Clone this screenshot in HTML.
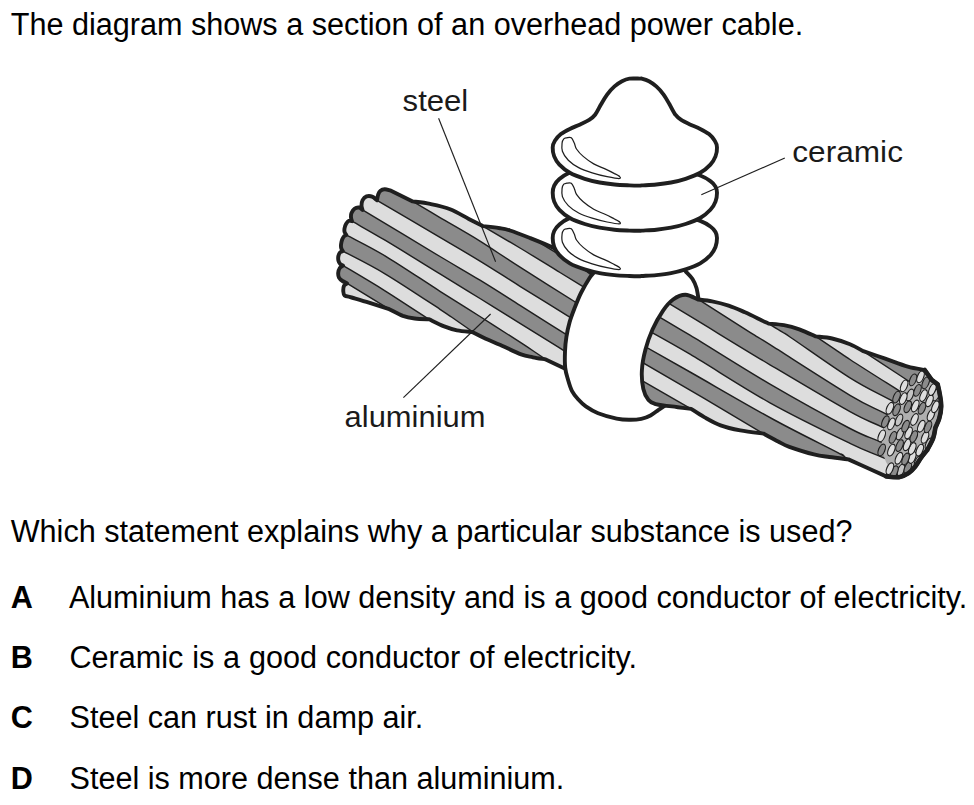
<!DOCTYPE html>
<html><head><meta charset="utf-8">
<style>
html,body{margin:0;padding:0;background:#fff;}
body{width:974px;height:805px;position:relative;overflow:hidden;font-family:"Liberation Sans",Arial,sans-serif;color:#000;}
.t{position:absolute;white-space:nowrap;font-size:30.6px;line-height:36px;}
.b{font-weight:bold;}
svg{position:absolute;left:0;top:0;}
svg text{font-family:"Liberation Sans",Arial,sans-serif;font-size:29px;fill:#1a1a1a;}
</style></head><body>
<div class="t" style="left:10.7px;top:6px">The diagram shows a section of an overhead power cable.</div>
<div class="t" style="left:10.7px;top:512.5px">Which statement explains why a particular substance is used?</div>
<div class="t b" style="left:10.7px;top:579px">A</div>
<div class="t" style="left:68.9px;top:579px;word-spacing:0.1px">Aluminium has a low density and is a good conductor of electricity.</div>
<div class="t b" style="left:10.7px;top:638.5px">B</div>
<div class="t" style="left:69.5px;top:638.5px;word-spacing:0.3px">Ceramic is a good conductor of electricity.</div>
<div class="t b" style="left:10.7px;top:699px">C</div>
<div class="t" style="left:69.5px;top:699px">Steel can rust in damp air.</div>
<div class="t b" style="left:10.7px;top:759.6px">D</div>
<div class="t" style="left:69.5px;top:759.6px">Steel is more dense than aluminium.</div>
<svg width="974" height="805" viewBox="0 0 974 805">
<clipPath id="cl"><path d="M377.0,200.3 C377.2,199.3 377.6,196.1 378.2,194.5 C378.8,192.9 379.4,191.7 380.5,190.8 C381.6,189.9 383.1,189.3 384.7,189.2 C386.3,189.1 389.1,190.1 390.0,190.3 L412.7,201.4 C415.6,201.8 423.9,202.6 430.1,203.9 C436.3,205.2 443.7,206.7 450.1,209.2 C456.6,211.7 463.4,216.1 468.8,218.9 C474.2,221.7 480.5,224.9 482.8,226.1 C485.7,226.4 495.5,227.5 500.0,228.2 C504.5,228.9 505.0,228.9 510.0,230.5 C515.0,232.1 522.9,235.2 530.0,238.0 C537.1,240.8 546.0,244.3 552.7,247.6 C559.4,250.9 562.1,252.6 570.0,258.0 C577.9,263.4 595.0,276.3 600.0,280.0 L600.0,400.0 L565.2,368.8 L545.7,359.5 C543.6,359.1 537.1,358.2 533.0,357.3 C528.9,356.4 526.5,356.4 521.1,354.4 C515.7,352.3 506.6,347.7 500.5,345.0 C494.4,342.3 488.9,340.2 484.2,338.0 C479.5,335.8 474.3,333.0 472.3,332.0 C469.8,331.7 461.8,331.3 457.0,330.3 C452.2,329.3 448.1,327.9 443.5,326.1 C438.9,324.3 431.5,320.4 429.1,319.3 C426.7,319.2 419.1,319.1 414.7,318.5 C410.3,317.9 407.1,317.4 402.8,315.9 C398.6,314.3 391.5,310.3 389.2,309.2 C385.8,308.1 375.5,304.7 368.9,302.6 C362.3,300.5 352.7,297.8 349.5,296.8 C348.7,296.6 345.6,296.4 344.6,295.5 C343.6,294.6 343.4,293.1 343.3,291.5 C343.2,289.9 343.3,287.4 343.9,286.0 C344.5,284.6 346.6,283.8 347.1,283.4 C346.3,283.0 343.9,281.9 342.5,281.0 C341.1,280.1 339.7,279.1 339.0,277.7 C338.3,276.3 338.1,274.5 338.2,272.9 C338.3,271.3 339.0,269.2 339.8,268.0 C340.6,266.8 342.6,266.0 343.1,265.6 C342.6,265.3 341.0,264.9 340.2,264.0 C339.4,263.1 338.7,261.8 338.4,260.5 C338.1,259.2 338.1,257.4 338.4,256.0 C338.7,254.6 339.5,253.1 340.2,252.3 C340.9,251.5 342.4,251.3 342.8,251.1 C342.5,250.6 341.5,249.2 341.2,248.0 C340.9,246.8 340.9,245.4 341.1,244.0 C341.3,242.6 341.7,240.8 342.2,239.5 C342.7,238.2 343.6,236.8 344.3,236.0 C345.0,235.2 346.0,235.1 346.3,234.9 C346.0,234.4 344.9,233.1 344.6,232.0 C344.3,230.9 344.3,229.8 344.5,228.5 C344.7,227.2 345.2,225.3 346.0,224.0 C346.8,222.7 348.0,221.3 349.0,220.8 C350.0,220.3 351.5,221.1 352.0,221.2 C351.8,220.6 351.1,218.9 351.0,217.5 C350.9,216.1 350.9,214.4 351.5,213.0 C352.1,211.6 353.1,209.7 354.4,208.8 C355.6,207.9 357.6,207.3 359.0,207.5 C360.4,207.7 361.9,209.5 362.5,209.9 C362.3,209.2 361.5,207.1 361.5,205.5 C361.5,203.9 361.8,201.7 362.6,200.2 C363.4,198.7 364.9,197.0 366.5,196.4 C368.1,195.8 370.4,195.9 372.2,196.6 C373.9,197.2 376.2,199.7 377.0,200.3 Z"/></clipPath>
<g clip-path="url(#cl)">
<rect x="330" y="100" width="280" height="420" fill="#dddddd"/>
<path d="M330.0,117.0 C348.3,128.0 405.0,162.0 440.0,183.0 C475.0,204.0 511.7,226.0 540.0,243.0 C568.3,260.0 598.3,278.0 610.0,285.0 L610,600 L330,600Z" fill="#8b8b8b"/>
<path d="M330.0,136.1 C355.5,151.1 451.1,207.5 482.8,226.1 C514.5,244.7 507.1,240.3 520.0,248.0 C532.9,255.7 545.0,263.3 560.0,272.5 C575.0,281.7 601.7,298.0 610.0,303.1 L610,600 L330,600Z" fill="#dddddd"/>
<path d="M330.0,152.3 C343.8,160.5 394.4,190.5 412.7,201.4 C431.0,212.3 428.8,211.0 440.0,217.6 C451.2,224.2 466.7,232.8 480.0,241.1 C493.3,249.4 503.3,256.6 520.0,267.2 C536.7,277.8 565.0,295.6 580.0,305.0 C595.0,314.4 605.0,320.8 610.0,323.9 L610,600 L330,600Z" fill="#8b8b8b"/>
<path d="M330.0,172.6 C337.8,177.2 358.7,189.5 377.0,200.3 C395.3,211.1 422.8,227.3 440.0,237.4 C457.2,247.5 466.7,253.0 480.0,261.1 C493.3,269.2 505.1,277.0 520.0,286.3 C534.9,295.6 554.3,307.6 569.3,316.9 C584.3,326.2 603.2,338.0 610.0,342.2 L610,600 L330,600Z" fill="#dddddd"/>
<path d="M330.0,190.4 C335.4,193.6 344.2,198.9 362.5,209.9 C380.8,220.9 420.4,244.8 440.0,256.5 C459.6,268.2 466.7,272.1 480.0,280.2 C493.3,288.3 505.8,296.4 520.0,305.4 C534.2,314.3 550.2,324.4 565.2,333.9 C580.2,343.4 602.5,357.4 610.0,362.1 L610,600 L330,600Z" fill="#8b8b8b"/>
<path d="M330.0,208.5 C333.7,210.6 342.8,215.9 352.0,221.2 C361.2,226.5 370.3,231.4 385.0,240.2 C399.7,249.0 424.2,264.2 440.0,273.9 C455.8,283.6 466.7,290.2 480.0,298.5 C493.3,306.8 506.0,314.7 520.0,323.4 C534.0,332.1 549.2,341.5 564.2,350.8 C579.2,360.1 602.4,374.5 610.0,379.2 L610,600 L330,600Z" fill="#dddddd"/>
<path d="M330.0,226.1 C332.7,227.6 337.1,229.9 346.3,234.9 C355.5,239.9 369.4,246.4 385.0,255.8 C400.6,265.2 424.2,281.2 440.0,291.3 C455.8,301.4 466.7,308.0 480.0,316.5 C493.3,325.0 509.1,335.1 520.0,342.2 C531.0,349.3 530.7,349.3 545.7,359.3 C560.7,369.3 599.3,395.0 610.0,402.1 L610,600 L330,600Z" fill="#8b8b8b"/>
<path d="M330.0,244.2 C332.1,245.4 333.6,246.2 342.8,251.1 C352.0,256.0 368.8,264.1 385.0,273.8 C401.2,283.5 425.4,299.7 440.0,309.3 C454.6,318.9 444.0,312.0 472.3,331.5 C500.6,351.0 587.0,410.4 610.0,426.1 L610,600 L330,600Z" fill="#dddddd"/>
<path d="M330.0,257.7 C332.2,259.0 333.9,260.1 343.1,265.6 C352.3,271.1 370.7,281.9 385.0,290.8 C399.3,299.8 391.6,295.1 429.1,319.3 C466.6,343.5 579.9,416.7 610.0,436.2 L610,600 L330,600Z" fill="#8b8b8b"/>
<path d="M330.0,272.9 C332.9,274.7 337.2,277.4 347.1,283.4 C357.0,289.4 345.4,282.3 389.2,309.2 C433.0,336.1 573.2,422.0 610.0,444.5 L610,600 L330,600Z" fill="#dddddd"/>
<path d="M330.0,117.0 C348.3,128.0 405.0,162.0 440.0,183.0 C475.0,204.0 511.7,226.0 540.0,243.0 C568.3,260.0 598.3,278.0 610.0,285.0" stroke="#1f1f1f" stroke-width="1.45" fill="none"/>
<path d="M330.0,136.1 C355.5,151.1 451.1,207.5 482.8,226.1 C514.5,244.7 507.1,240.3 520.0,248.0 C532.9,255.7 545.0,263.3 560.0,272.5 C575.0,281.7 601.7,298.0 610.0,303.1" stroke="#1f1f1f" stroke-width="1.45" fill="none"/>
<path d="M330.0,152.3 C343.8,160.5 394.4,190.5 412.7,201.4 C431.0,212.3 428.8,211.0 440.0,217.6 C451.2,224.2 466.7,232.8 480.0,241.1 C493.3,249.4 503.3,256.6 520.0,267.2 C536.7,277.8 565.0,295.6 580.0,305.0 C595.0,314.4 605.0,320.8 610.0,323.9" stroke="#1f1f1f" stroke-width="1.45" fill="none"/>
<path d="M330.0,172.6 C337.8,177.2 358.7,189.5 377.0,200.3 C395.3,211.1 422.8,227.3 440.0,237.4 C457.2,247.5 466.7,253.0 480.0,261.1 C493.3,269.2 505.1,277.0 520.0,286.3 C534.9,295.6 554.3,307.6 569.3,316.9 C584.3,326.2 603.2,338.0 610.0,342.2" stroke="#1f1f1f" stroke-width="1.45" fill="none"/>
<path d="M330.0,190.4 C335.4,193.6 344.2,198.9 362.5,209.9 C380.8,220.9 420.4,244.8 440.0,256.5 C459.6,268.2 466.7,272.1 480.0,280.2 C493.3,288.3 505.8,296.4 520.0,305.4 C534.2,314.3 550.2,324.4 565.2,333.9 C580.2,343.4 602.5,357.4 610.0,362.1" stroke="#1f1f1f" stroke-width="1.45" fill="none"/>
<path d="M330.0,208.5 C333.7,210.6 342.8,215.9 352.0,221.2 C361.2,226.5 370.3,231.4 385.0,240.2 C399.7,249.0 424.2,264.2 440.0,273.9 C455.8,283.6 466.7,290.2 480.0,298.5 C493.3,306.8 506.0,314.7 520.0,323.4 C534.0,332.1 549.2,341.5 564.2,350.8 C579.2,360.1 602.4,374.5 610.0,379.2" stroke="#1f1f1f" stroke-width="1.45" fill="none"/>
<path d="M330.0,226.1 C332.7,227.6 337.1,229.9 346.3,234.9 C355.5,239.9 369.4,246.4 385.0,255.8 C400.6,265.2 424.2,281.2 440.0,291.3 C455.8,301.4 466.7,308.0 480.0,316.5 C493.3,325.0 509.1,335.1 520.0,342.2 C531.0,349.3 530.7,349.3 545.7,359.3 C560.7,369.3 599.3,395.0 610.0,402.1" stroke="#1f1f1f" stroke-width="1.45" fill="none"/>
<path d="M330.0,244.2 C332.1,245.4 333.6,246.2 342.8,251.1 C352.0,256.0 368.8,264.1 385.0,273.8 C401.2,283.5 425.4,299.7 440.0,309.3 C454.6,318.9 444.0,312.0 472.3,331.5 C500.6,351.0 587.0,410.4 610.0,426.1" stroke="#1f1f1f" stroke-width="1.45" fill="none"/>
<path d="M330.0,257.7 C332.2,259.0 333.9,260.1 343.1,265.6 C352.3,271.1 370.7,281.9 385.0,290.8 C399.3,299.8 391.6,295.1 429.1,319.3 C466.6,343.5 579.9,416.7 610.0,436.2" stroke="#1f1f1f" stroke-width="1.45" fill="none"/>
<path d="M330.0,272.9 C332.9,274.7 337.2,277.4 347.1,283.4 C357.0,289.4 345.4,282.3 389.2,309.2 C433.0,336.1 573.2,422.0 610.0,444.5" stroke="#1f1f1f" stroke-width="1.45" fill="none"/>
</g>
<path d="M377.0,200.3 C377.2,199.3 377.6,196.1 378.2,194.5 C378.8,192.9 379.4,191.7 380.5,190.8 C381.6,189.9 383.1,189.3 384.7,189.2 C386.3,189.1 389.1,190.1 390.0,190.3 L412.7,201.4 C415.6,201.8 423.9,202.6 430.1,203.9 C436.3,205.2 443.7,206.7 450.1,209.2 C456.6,211.7 463.4,216.1 468.8,218.9 C474.2,221.7 480.5,224.9 482.8,226.1 C485.7,226.4 495.5,227.5 500.0,228.2 C504.5,228.9 505.0,228.9 510.0,230.5 C515.0,232.1 522.9,235.2 530.0,238.0 C537.1,240.8 546.0,244.3 552.7,247.6 C559.4,250.9 562.1,252.6 570.0,258.0 C577.9,263.4 595.0,276.3 600.0,280.0 L600.0,400.0 L565.2,368.8 L545.7,359.5 C543.6,359.1 537.1,358.2 533.0,357.3 C528.9,356.4 526.5,356.4 521.1,354.4 C515.7,352.3 506.6,347.7 500.5,345.0 C494.4,342.3 488.9,340.2 484.2,338.0 C479.5,335.8 474.3,333.0 472.3,332.0 C469.8,331.7 461.8,331.3 457.0,330.3 C452.2,329.3 448.1,327.9 443.5,326.1 C438.9,324.3 431.5,320.4 429.1,319.3 C426.7,319.2 419.1,319.1 414.7,318.5 C410.3,317.9 407.1,317.4 402.8,315.9 C398.6,314.3 391.5,310.3 389.2,309.2 C385.8,308.1 375.5,304.7 368.9,302.6 C362.3,300.5 352.7,297.8 349.5,296.8 C348.7,296.6 345.6,296.4 344.6,295.5 C343.6,294.6 343.4,293.1 343.3,291.5 C343.2,289.9 343.3,287.4 343.9,286.0 C344.5,284.6 346.6,283.8 347.1,283.4 C346.3,283.0 343.9,281.9 342.5,281.0 C341.1,280.1 339.7,279.1 339.0,277.7 C338.3,276.3 338.1,274.5 338.2,272.9 C338.3,271.3 339.0,269.2 339.8,268.0 C340.6,266.8 342.6,266.0 343.1,265.6 C342.6,265.3 341.0,264.9 340.2,264.0 C339.4,263.1 338.7,261.8 338.4,260.5 C338.1,259.2 338.1,257.4 338.4,256.0 C338.7,254.6 339.5,253.1 340.2,252.3 C340.9,251.5 342.4,251.3 342.8,251.1 C342.5,250.6 341.5,249.2 341.2,248.0 C340.9,246.8 340.9,245.4 341.1,244.0 C341.3,242.6 341.7,240.8 342.2,239.5 C342.7,238.2 343.6,236.8 344.3,236.0 C345.0,235.2 346.0,235.1 346.3,234.9 C346.0,234.4 344.9,233.1 344.6,232.0 C344.3,230.9 344.3,229.8 344.5,228.5 C344.7,227.2 345.2,225.3 346.0,224.0 C346.8,222.7 348.0,221.3 349.0,220.8 C350.0,220.3 351.5,221.1 352.0,221.2 C351.8,220.6 351.1,218.9 351.0,217.5 C350.9,216.1 350.9,214.4 351.5,213.0 C352.1,211.6 353.1,209.7 354.4,208.8 C355.6,207.9 357.6,207.3 359.0,207.5 C360.4,207.7 361.9,209.5 362.5,209.9 C362.3,209.2 361.5,207.1 361.5,205.5 C361.5,203.9 361.8,201.7 362.6,200.2 C363.4,198.7 364.9,197.0 366.5,196.4 C368.1,195.8 370.4,195.9 372.2,196.6 C373.9,197.2 376.2,199.7 377.0,200.3 Z" fill="none" stroke="#1f1f1f" stroke-width="3.9" stroke-linejoin="round"/>
<path d="M593.9,272.5 C593.2,273.4 591.8,274.5 589.7,277.8 C587.6,281.1 583.7,287.6 581.2,292.5 C578.7,297.4 576.8,302.4 574.9,307.3 C573.0,312.2 571.0,317.2 569.6,322.1 C568.2,327.0 567.2,332.0 566.4,336.9 C565.6,341.8 565.2,346.5 565.0,351.6 C564.8,356.7 564.7,363.0 565.2,367.7 C565.7,372.4 567.0,376.1 568.1,380.0 C569.2,383.9 570.2,387.6 571.9,390.8 C573.6,394.0 575.8,396.7 578.1,399.3 C580.4,401.9 582.5,404.0 585.8,406.3 C589.1,408.6 593.0,411.1 598.1,413.2 C603.2,415.2 611.5,417.5 616.6,418.6 C621.8,419.7 624.9,419.8 629.0,419.8 C633.1,419.9 637.7,419.6 641.3,418.9 C644.9,418.2 647.7,417.0 650.5,415.5 C653.3,414.0 655.8,411.8 658.2,410.1 C660.6,408.5 663.7,406.4 664.8,405.6 L700.0,380.0 L698.6,298.6 C698.1,296.2 697.9,288.8 695.7,284.3 C693.6,279.8 687.4,273.5 685.7,271.4 L640.0,255.0 L593.9,272.5 Z" fill="#fff" stroke="none"/>
<path d="M593.9,272.5 C593.2,273.4 591.8,274.5 589.7,277.8 C587.6,281.1 583.7,287.6 581.2,292.5 C578.7,297.4 576.8,302.4 574.9,307.3 C573.0,312.2 571.0,317.2 569.6,322.1 C568.2,327.0 567.2,332.0 566.4,336.9 C565.6,341.8 565.2,346.5 565.0,351.6 C564.8,356.7 564.7,363.0 565.2,367.7 C565.7,372.4 567.0,376.1 568.1,380.0 C569.2,383.9 570.2,387.6 571.9,390.8 C573.6,394.0 575.8,396.7 578.1,399.3 C580.4,401.9 582.5,404.0 585.8,406.3 C589.1,408.6 593.0,411.1 598.1,413.2 C603.2,415.2 611.5,417.5 616.6,418.6 C621.8,419.7 624.9,419.8 629.0,419.8 C633.1,419.9 637.7,419.6 641.3,418.9 C644.9,418.2 647.7,417.0 650.5,415.5 C653.3,414.0 655.8,411.8 658.2,410.1 C660.6,408.5 663.7,406.4 664.8,405.6" fill="none" stroke="#1f1f1f" stroke-width="3.9" stroke-linecap="round"/>
<path d="M685.7,271.4 C686.8,272.7 690.7,276.2 692.5,279.0 C694.3,281.8 695.5,284.6 696.5,288.0 C697.5,291.4 698.2,297.6 698.6,299.5" fill="none" stroke="#1f1f1f" stroke-width="3.9" stroke-linecap="round"/>
<clipPath id="cr"><path d="M664.8,405.6 C663.3,405.4 658.4,405.1 655.7,404.2 C653.0,403.3 650.6,402.7 648.5,400.1 C646.4,397.5 644.4,393.8 643.3,388.8 C642.2,383.8 641.5,376.8 641.9,370.3 C642.2,363.8 643.6,356.6 645.4,349.8 C647.2,343.0 649.7,335.8 652.6,329.3 C655.5,322.8 659.5,315.8 662.9,310.8 C666.3,305.8 669.4,302.2 673.1,299.5 C676.9,296.8 681.3,294.8 685.4,294.8 C689.5,294.8 695.7,298.7 697.8,299.5 C700.2,299.8 707.0,300.3 712.1,301.3 C717.2,302.3 723.1,303.8 728.6,305.6 C734.1,307.4 739.5,309.9 745.0,312.3 C750.5,314.7 757.5,318.3 761.4,320.2 C765.3,322.1 767.3,323.0 768.5,323.6 C771.1,323.9 778.8,324.2 783.9,325.2 C789.0,326.1 794.0,327.4 799.3,329.3 C804.6,331.2 813.0,335.2 815.7,336.4 C818.4,336.8 826.4,337.2 832.1,338.5 C837.8,339.8 844.9,342.2 850.0,344.3 C855.1,346.4 860.5,349.7 862.6,350.8 C866.4,352.1 877.7,356.1 885.2,358.7 C892.7,361.3 901.2,364.7 907.8,366.6 C914.4,368.5 921.9,369.4 924.7,370.0 L931.7,379.9 L937.7,384.4 C938.1,386.1 939.3,391.1 939.9,394.8 C940.5,398.5 941.3,402.8 941.2,406.8 C941.1,410.8 940.2,415.2 939.2,418.7 C938.2,422.2 936.0,426.2 935.4,427.7 C935.0,429.4 934.6,434.4 933.2,438.1 C931.8,441.8 928.2,448.1 927.2,450.1 C926.2,451.3 923.3,454.8 921.3,457.5 C919.3,460.2 917.4,463.9 915.3,466.5 C913.2,469.1 911.3,471.4 908.6,473.2 C905.9,475.0 902.6,476.7 898.9,477.2 C895.1,477.7 888.2,476.5 886.1,476.4 C883.1,475.0 874.4,471.1 868.1,468.3 C861.8,465.5 851.7,460.9 848.4,459.4 C845.2,459.0 835.0,457.8 829.3,457.0 C823.5,456.2 820.6,456.1 813.9,454.4 C807.2,452.7 795.3,448.9 789.3,446.8 C783.3,444.7 782.4,443.7 778.1,441.5 C773.8,439.3 765.8,434.9 763.3,433.6 C759.5,433.1 747.4,431.8 740.3,430.4 C733.2,429.0 726.6,427.5 720.6,425.3 C714.6,423.1 709.1,419.8 704.2,417.1 C699.3,414.4 693.3,410.3 691.1,408.9 C688.9,408.6 682.3,407.8 677.9,407.2 C673.5,406.6 667.0,405.9 664.8,405.6 Z"/></clipPath>
<g clip-path="url(#cr)">
<rect x="630" y="100" width="320" height="420" fill="#8b8b8b"/>
<path d="M630.0,197.8 C668.8,223.3 816.2,320.3 862.6,350.8 C909.0,381.3 893.9,371.4 908.5,381.0 C923.1,390.6 943.1,403.8 950.0,408.3 L950,600 L630,600Z" fill="#dddddd"/>
<path d="M630.0,211.3 C661.0,232.2 779.0,311.7 815.7,336.4 C852.4,361.1 835.8,350.2 850.0,359.5 C864.2,368.8 884.3,381.4 901.0,392.0 C917.7,402.6 941.8,418.0 950.0,423.2 L950,600 L630,600Z" fill="#8b8b8b"/>
<path d="M630.0,237.3 C653.1,251.7 741.8,307.0 768.5,323.6 C795.2,340.2 776.4,327.9 790.0,337.0 C803.6,346.1 832.8,367.1 850.0,377.9 C867.2,388.7 876.8,392.6 893.5,401.7 C910.2,410.8 940.6,427.5 950.0,432.6 L950,600 L630,600Z" fill="#dddddd"/>
<path d="M630.0,256.0 C641.6,263.4 679.5,287.5 699.5,300.2 C719.5,312.9 738.2,324.9 750.0,332.3 C761.8,339.7 753.3,334.2 770.0,344.7 C786.7,355.2 830.4,383.6 850.0,395.3 C869.6,407.0 871.2,406.2 887.9,414.8 C904.6,423.4 939.6,441.4 950.0,446.8 L950,600 L630,600Z" fill="#8b8b8b"/>
<path d="M630.0,280.0 C631.7,281.0 630.0,280.0 640.0,286.0 C650.0,292.0 668.3,303.1 690.0,316.2 C711.7,329.3 743.3,348.9 770.0,364.8 C796.7,380.7 831.0,401.2 850.0,411.7 C869.0,422.2 867.2,419.9 883.9,427.8 C900.6,435.7 939.0,454.0 950.0,459.2 L950,600 L630,600Z" fill="#dddddd"/>
<path d="M630.0,299.6 C631.7,300.6 630.0,299.6 640.0,305.5 C650.0,311.4 668.3,322.1 690.0,335.2 C711.7,348.3 743.3,368.6 770.0,384.2 C796.7,399.8 831.3,418.8 850.0,428.5 C868.7,438.2 865.5,435.3 882.2,442.6 C898.9,449.9 938.7,467.3 950.0,472.3 L950,600 L630,600Z" fill="#8b8b8b"/>
<path d="M630.0,320.4 C631.7,321.3 630.0,320.4 640.0,326.0 C650.0,331.6 668.3,341.4 690.0,354.2 C711.7,367.0 743.3,387.9 770.0,402.8 C796.7,417.7 830.9,434.1 850.0,443.3 C869.1,452.6 868.1,451.1 884.8,458.3 C901.5,465.5 939.1,481.7 950.0,486.4 L950,600 L630,600Z" fill="#dddddd"/>
<path d="M630.0,338.0 C631.7,339.0 630.0,338.0 640.0,343.7 C650.0,349.4 667.6,359.3 690.0,372.0 C712.4,384.7 749.4,406.4 774.4,420.0 C799.4,433.6 827.7,447.2 840.0,453.8 C852.3,460.4 830.1,447.2 848.4,459.4 C866.7,471.6 933.1,515.8 950.0,527.1 L950,600 L630,600Z" fill="#8b8b8b"/>
<path d="M630.0,355.2 C631.7,356.1 630.0,355.2 640.0,361.0 C650.0,366.8 669.5,378.0 690.0,390.1 C710.5,402.2 720.0,407.9 763.3,433.6 C806.6,459.3 918.9,525.9 950.0,544.4 L950,600 L630,600Z" fill="#dddddd"/>
<path d="M630.0,373.7 C631.7,374.7 629.8,373.6 640.0,379.5 C650.2,385.4 639.4,379.2 691.1,408.9 C742.8,438.6 906.9,533.0 950.0,557.9 L950,600 L630,600Z" fill="#8b8b8b"/>
<path d="M630.0,197.8 C668.8,223.3 816.2,320.3 862.6,350.8 C909.0,381.3 893.9,371.4 908.5,381.0 C923.1,390.6 943.1,403.8 950.0,408.3" stroke="#1f1f1f" stroke-width="1.45" fill="none"/>
<path d="M630.0,211.3 C661.0,232.2 779.0,311.7 815.7,336.4 C852.4,361.1 835.8,350.2 850.0,359.5 C864.2,368.8 884.3,381.4 901.0,392.0 C917.7,402.6 941.8,418.0 950.0,423.2" stroke="#1f1f1f" stroke-width="1.45" fill="none"/>
<path d="M630.0,237.3 C653.1,251.7 741.8,307.0 768.5,323.6 C795.2,340.2 776.4,327.9 790.0,337.0 C803.6,346.1 832.8,367.1 850.0,377.9 C867.2,388.7 876.8,392.6 893.5,401.7 C910.2,410.8 940.6,427.5 950.0,432.6" stroke="#1f1f1f" stroke-width="1.45" fill="none"/>
<path d="M630.0,256.0 C641.6,263.4 679.5,287.5 699.5,300.2 C719.5,312.9 738.2,324.9 750.0,332.3 C761.8,339.7 753.3,334.2 770.0,344.7 C786.7,355.2 830.4,383.6 850.0,395.3 C869.6,407.0 871.2,406.2 887.9,414.8 C904.6,423.4 939.6,441.4 950.0,446.8" stroke="#1f1f1f" stroke-width="1.45" fill="none"/>
<path d="M630.0,280.0 C631.7,281.0 630.0,280.0 640.0,286.0 C650.0,292.0 668.3,303.1 690.0,316.2 C711.7,329.3 743.3,348.9 770.0,364.8 C796.7,380.7 831.0,401.2 850.0,411.7 C869.0,422.2 867.2,419.9 883.9,427.8 C900.6,435.7 939.0,454.0 950.0,459.2" stroke="#1f1f1f" stroke-width="1.45" fill="none"/>
<path d="M630.0,299.6 C631.7,300.6 630.0,299.6 640.0,305.5 C650.0,311.4 668.3,322.1 690.0,335.2 C711.7,348.3 743.3,368.6 770.0,384.2 C796.7,399.8 831.3,418.8 850.0,428.5 C868.7,438.2 865.5,435.3 882.2,442.6 C898.9,449.9 938.7,467.3 950.0,472.3" stroke="#1f1f1f" stroke-width="1.45" fill="none"/>
<path d="M630.0,320.4 C631.7,321.3 630.0,320.4 640.0,326.0 C650.0,331.6 668.3,341.4 690.0,354.2 C711.7,367.0 743.3,387.9 770.0,402.8 C796.7,417.7 830.9,434.1 850.0,443.3 C869.1,452.6 868.1,451.1 884.8,458.3 C901.5,465.5 939.1,481.7 950.0,486.4" stroke="#1f1f1f" stroke-width="1.45" fill="none"/>
<path d="M630.0,338.0 C631.7,339.0 630.0,338.0 640.0,343.7 C650.0,349.4 667.6,359.3 690.0,372.0 C712.4,384.7 749.4,406.4 774.4,420.0 C799.4,433.6 827.7,447.2 840.0,453.8 C852.3,460.4 830.1,447.2 848.4,459.4 C866.7,471.6 933.1,515.8 950.0,527.1" stroke="#1f1f1f" stroke-width="1.45" fill="none"/>
<path d="M630.0,355.2 C631.7,356.1 630.0,355.2 640.0,361.0 C650.0,366.8 669.5,378.0 690.0,390.1 C710.5,402.2 720.0,407.9 763.3,433.6 C806.6,459.3 918.9,525.9 950.0,544.4" stroke="#1f1f1f" stroke-width="1.45" fill="none"/>
<path d="M630.0,373.7 C631.7,374.7 629.8,373.6 640.0,379.5 C650.2,385.4 639.4,379.2 691.1,408.9 C742.8,438.6 906.9,533.0 950.0,557.9" stroke="#1f1f1f" stroke-width="1.45" fill="none"/>
</g>

<g clip-path="url(#cr)">
<path d="M922.0,371.0 L913.0,379.9 L904.1,385.9 L896.6,397.1 L889.9,408.3 L885.4,421.7 L881.7,435.9 L881.7,450.0 L886.0,462.0 L889.9,468.7 L888.0,476.0 L960,480 L960,360 Z" fill="#b0b0b0"/>
<ellipse cx="910.0" cy="395.0" rx="3.1" ry="6.2" transform="rotate(23 910.0 395.0)" fill="#c4c4c4" stroke="#1f1f1f" stroke-width="1.2"/>
<ellipse cx="901.0" cy="470.0" rx="3.1" ry="6.2" transform="rotate(23 901.0 470.0)" fill="#c4c4c4" stroke="#1f1f1f" stroke-width="1.2"/>
<ellipse cx="929.0" cy="444.0" rx="3.1" ry="6.2" transform="rotate(23 929.0 444.0)" fill="#c4c4c4" stroke="#1f1f1f" stroke-width="1.2"/>
<ellipse cx="918.0" cy="462.0" rx="3.1" ry="6.2" transform="rotate(23 918.0 462.0)" fill="#c4c4c4" stroke="#1f1f1f" stroke-width="1.2"/>
<ellipse cx="900.0" cy="434.0" rx="3.1" ry="6.2" transform="rotate(23 900.0 434.0)" fill="#c4c4c4" stroke="#1f1f1f" stroke-width="1.2"/>
<ellipse cx="936.0" cy="395.0" rx="3.1" ry="6.2" transform="rotate(23 936.0 395.0)" fill="#c4c4c4" stroke="#1f1f1f" stroke-width="1.2"/>
<ellipse cx="899.0" cy="420.0" rx="3.1" ry="6.2" transform="rotate(23 899.0 420.0)" fill="#c4c4c4" stroke="#1f1f1f" stroke-width="1.2"/>
<ellipse cx="907.8" cy="468.0" rx="3.1" ry="6.2" transform="rotate(23 907.8 468.0)" fill="#8b8b8b" stroke="#1f1f1f" stroke-width="1.2"/>
<ellipse cx="894.4" cy="471.7" rx="3.1" ry="6.2" transform="rotate(23 894.4 471.7)" fill="#8b8b8b" stroke="#1f1f1f" stroke-width="1.2"/>
<ellipse cx="912.3" cy="457.5" rx="3.1" ry="6.2" transform="rotate(23 912.3 457.5)" fill="#dddddd" stroke="#1f1f1f" stroke-width="1.2"/>
<ellipse cx="905.6" cy="459.0" rx="3.1" ry="6.2" transform="rotate(23 905.6 459.0)" fill="#8b8b8b" stroke="#1f1f1f" stroke-width="1.2"/>
<ellipse cx="898.9" cy="458.3" rx="3.1" ry="6.2" transform="rotate(23 898.9 458.3)" fill="#dddddd" stroke="#1f1f1f" stroke-width="1.2"/>
<ellipse cx="919.8" cy="450.1" rx="3.1" ry="6.2" transform="rotate(23 919.8 450.1)" fill="#dddddd" stroke="#1f1f1f" stroke-width="1.2"/>
<ellipse cx="912.3" cy="448.6" rx="3.1" ry="6.2" transform="rotate(23 912.3 448.6)" fill="#dddddd" stroke="#1f1f1f" stroke-width="1.2"/>
<ellipse cx="907.1" cy="444.8" rx="3.1" ry="6.2" transform="rotate(23 907.1 444.8)" fill="#dddddd" stroke="#1f1f1f" stroke-width="1.2"/>
<ellipse cx="899.6" cy="445.6" rx="3.1" ry="6.2" transform="rotate(23 899.6 445.6)" fill="#8b8b8b" stroke="#1f1f1f" stroke-width="1.2"/>
<ellipse cx="891.4" cy="450.1" rx="3.1" ry="6.2" transform="rotate(23 891.4 450.1)" fill="#dddddd" stroke="#1f1f1f" stroke-width="1.2"/>
<ellipse cx="925.0" cy="437.4" rx="3.1" ry="6.2" transform="rotate(23 925.0 437.4)" fill="#dddddd" stroke="#1f1f1f" stroke-width="1.2"/>
<ellipse cx="913.8" cy="436.6" rx="3.1" ry="6.2" transform="rotate(23 913.8 436.6)" fill="#8b8b8b" stroke="#1f1f1f" stroke-width="1.2"/>
<ellipse cx="908.6" cy="432.9" rx="3.1" ry="6.2" transform="rotate(23 908.6 432.9)" fill="#dddddd" stroke="#1f1f1f" stroke-width="1.2"/>
<ellipse cx="892.9" cy="437.4" rx="3.1" ry="6.2" transform="rotate(23 892.9 437.4)" fill="#8b8b8b" stroke="#1f1f1f" stroke-width="1.2"/>
<ellipse cx="928.0" cy="426.9" rx="3.1" ry="6.2" transform="rotate(23 928.0 426.9)" fill="#8b8b8b" stroke="#1f1f1f" stroke-width="1.2"/>
<ellipse cx="921.3" cy="426.2" rx="3.1" ry="6.2" transform="rotate(23 921.3 426.2)" fill="#dddddd" stroke="#1f1f1f" stroke-width="1.2"/>
<ellipse cx="905.6" cy="426.2" rx="3.1" ry="6.2" transform="rotate(23 905.6 426.2)" fill="#8b8b8b" stroke="#1f1f1f" stroke-width="1.2"/>
<ellipse cx="891.4" cy="423.9" rx="3.1" ry="6.2" transform="rotate(23 891.4 423.9)" fill="#dddddd" stroke="#1f1f1f" stroke-width="1.2"/>
<ellipse cx="914.5" cy="419.5" rx="3.1" ry="6.2" transform="rotate(23 914.5 419.5)" fill="#dddddd" stroke="#1f1f1f" stroke-width="1.2"/>
<ellipse cx="896.6" cy="409.8" rx="3.1" ry="6.2" transform="rotate(23 896.6 409.8)" fill="#8b8b8b" stroke="#1f1f1f" stroke-width="1.2"/>
<ellipse cx="931.0" cy="415.0" rx="3.1" ry="6.2" transform="rotate(23 931.0 415.0)" fill="#dddddd" stroke="#1f1f1f" stroke-width="1.2"/>
<ellipse cx="922.0" cy="408.3" rx="3.1" ry="6.2" transform="rotate(23 922.0 408.3)" fill="#8b8b8b" stroke="#1f1f1f" stroke-width="1.2"/>
<ellipse cx="915.3" cy="406.0" rx="3.1" ry="6.2" transform="rotate(23 915.3 406.0)" fill="#dddddd" stroke="#1f1f1f" stroke-width="1.2"/>
<ellipse cx="907.8" cy="406.8" rx="3.1" ry="6.2" transform="rotate(23 907.8 406.8)" fill="#8b8b8b" stroke="#1f1f1f" stroke-width="1.2"/>
<ellipse cx="903.3" cy="398.6" rx="3.1" ry="6.2" transform="rotate(23 903.3 398.6)" fill="#dddddd" stroke="#1f1f1f" stroke-width="1.2"/>
<ellipse cx="935.4" cy="406.8" rx="3.1" ry="6.2" transform="rotate(23 935.4 406.8)" fill="#dddddd" stroke="#1f1f1f" stroke-width="1.2"/>
<ellipse cx="929.5" cy="400.8" rx="3.1" ry="6.2" transform="rotate(23 929.5 400.8)" fill="#dddddd" stroke="#1f1f1f" stroke-width="1.2"/>
<ellipse cx="923.5" cy="395.6" rx="3.1" ry="6.2" transform="rotate(23 923.5 395.6)" fill="#dddddd" stroke="#1f1f1f" stroke-width="1.2"/>
<ellipse cx="917.5" cy="390.4" rx="3.1" ry="6.2" transform="rotate(23 917.5 390.4)" fill="#8b8b8b" stroke="#1f1f1f" stroke-width="1.2"/>
<ellipse cx="913.0" cy="379.9" rx="3.1" ry="6.2" transform="rotate(23 913.0 379.9)" fill="#8b8b8b" stroke="#1f1f1f" stroke-width="1.2"/>
<ellipse cx="920.5" cy="376.9" rx="3.1" ry="6.2" transform="rotate(23 920.5 376.9)" fill="#dddddd" stroke="#1f1f1f" stroke-width="1.2"/>
<ellipse cx="925.7" cy="382.9" rx="3.1" ry="6.2" transform="rotate(23 925.7 382.9)" fill="#8b8b8b" stroke="#1f1f1f" stroke-width="1.2"/>
<ellipse cx="932.4" cy="389.6" rx="3.1" ry="6.2" transform="rotate(23 932.4 389.6)" fill="#dddddd" stroke="#1f1f1f" stroke-width="1.2"/>
<ellipse cx="904.1" cy="385.9" rx="3.1" ry="6.2" transform="rotate(23 904.1 385.9)" fill="#dddddd" stroke="#1f1f1f" stroke-width="1.2"/>
<ellipse cx="896.6" cy="397.1" rx="3.1" ry="6.2" transform="rotate(23 896.6 397.1)" fill="#8b8b8b" stroke="#1f1f1f" stroke-width="1.2"/>
<ellipse cx="889.9" cy="408.3" rx="3.1" ry="6.2" transform="rotate(23 889.9 408.3)" fill="#dddddd" stroke="#1f1f1f" stroke-width="1.2"/>
<ellipse cx="885.4" cy="421.7" rx="3.1" ry="6.2" transform="rotate(23 885.4 421.7)" fill="#8b8b8b" stroke="#1f1f1f" stroke-width="1.2"/>
<ellipse cx="881.7" cy="435.9" rx="3.1" ry="6.2" transform="rotate(23 881.7 435.9)" fill="#dddddd" stroke="#1f1f1f" stroke-width="1.2"/>
<ellipse cx="881.7" cy="450.0" rx="3.1" ry="6.2" transform="rotate(23 881.7 450.0)" fill="#8b8b8b" stroke="#1f1f1f" stroke-width="1.2"/>
<ellipse cx="889.9" cy="468.7" rx="3.1" ry="6.2" transform="rotate(23 889.9 468.7)" fill="#dddddd" stroke="#1f1f1f" stroke-width="1.2"/>
</g>

<path d="M664.8,405.6 C663.3,405.4 658.4,405.1 655.7,404.2 C653.0,403.3 650.6,402.7 648.5,400.1 C646.4,397.5 644.4,393.8 643.3,388.8 C642.2,383.8 641.5,376.8 641.9,370.3 C642.2,363.8 643.6,356.6 645.4,349.8 C647.2,343.0 649.7,335.8 652.6,329.3 C655.5,322.8 659.5,315.8 662.9,310.8 C666.3,305.8 669.4,302.2 673.1,299.5 C676.9,296.8 681.3,294.8 685.4,294.8 C689.5,294.8 695.7,298.7 697.8,299.5 C700.2,299.8 707.0,300.3 712.1,301.3 C717.2,302.3 723.1,303.8 728.6,305.6 C734.1,307.4 739.5,309.9 745.0,312.3 C750.5,314.7 757.5,318.3 761.4,320.2 C765.3,322.1 767.3,323.0 768.5,323.6 C771.1,323.9 778.8,324.2 783.9,325.2 C789.0,326.1 794.0,327.4 799.3,329.3 C804.6,331.2 813.0,335.2 815.7,336.4 C818.4,336.8 826.4,337.2 832.1,338.5 C837.8,339.8 844.9,342.2 850.0,344.3 C855.1,346.4 860.5,349.7 862.6,350.8 C866.4,352.1 877.7,356.1 885.2,358.7 C892.7,361.3 901.2,364.7 907.8,366.6 C914.4,368.5 921.9,369.4 924.7,370.0 L931.7,379.9 L937.7,384.4 C938.1,386.1 939.3,391.1 939.9,394.8 C940.5,398.5 941.3,402.8 941.2,406.8 C941.1,410.8 940.2,415.2 939.2,418.7 C938.2,422.2 936.0,426.2 935.4,427.7 C935.0,429.4 934.6,434.4 933.2,438.1 C931.8,441.8 928.2,448.1 927.2,450.1 C926.2,451.3 923.3,454.8 921.3,457.5 C919.3,460.2 917.4,463.9 915.3,466.5 C913.2,469.1 911.3,471.4 908.6,473.2 C905.9,475.0 902.6,476.7 898.9,477.2 C895.1,477.7 888.2,476.5 886.1,476.4 C883.1,475.0 874.4,471.1 868.1,468.3 C861.8,465.5 851.7,460.9 848.4,459.4 C845.2,459.0 835.0,457.8 829.3,457.0 C823.5,456.2 820.6,456.1 813.9,454.4 C807.2,452.7 795.3,448.9 789.3,446.8 C783.3,444.7 782.4,443.7 778.1,441.5 C773.8,439.3 765.8,434.9 763.3,433.6 C759.5,433.1 747.4,431.8 740.3,430.4 C733.2,429.0 726.6,427.5 720.6,425.3 C714.6,423.1 709.1,419.8 704.2,417.1 C699.3,414.4 693.3,410.3 691.1,408.9 C688.9,408.6 682.3,407.8 677.9,407.2 C673.5,406.6 667.0,405.9 664.8,405.6 Z" fill="none" stroke="#1f1f1f" stroke-width="3.9" stroke-linejoin="round"/>
<path d="M924.7,370.0 L931.7,379.9 L937.7,384.4 C938.1,386.1 939.3,391.1 939.9,394.8 C940.5,398.5 941.3,402.8 941.2,406.8 C941.1,410.8 940.2,415.2 939.2,418.7 C938.2,422.2 936.0,426.2 935.4,427.7 C935.0,429.4 934.6,434.4 933.2,438.1 C931.8,441.8 928.2,448.1 927.2,450.1 C926.2,451.3 923.3,454.8 921.3,457.5 C919.3,460.2 917.4,463.9 915.3,466.5 C913.2,469.1 911.3,471.4 908.6,473.2 C905.9,475.0 902.6,476.7 898.9,477.2 C895.1,477.7 888.2,476.5 886.1,476.4 " fill="none" stroke="#1f1f1f" stroke-width="4.6" stroke-linejoin="round" stroke-linecap="round"/>
<path d="M552.7,238.1 C552.7,240.8 553.1,244.2 554.2,247.0 C555.3,249.8 556.8,252.5 559.4,255.2 C562.0,257.9 565.6,261.0 569.8,263.4 C574.0,265.8 579.7,267.8 584.7,269.4 C589.7,271.0 594.6,272.2 599.6,273.1 C604.6,274.1 609.5,274.6 614.5,275.1 C619.5,275.6 625.1,275.8 629.4,276.0 C633.6,276.2 638.0,276.2 640.0,276.2 C642.0,276.2 639.0,276.2 641.7,276.0 C644.4,275.8 651.4,275.6 656.3,275.1 C661.2,274.6 666.1,274.1 671.0,273.1 C675.8,272.2 680.7,271.0 685.6,269.4 C690.5,267.8 696.1,265.8 700.2,263.4 C704.4,261.0 707.9,257.9 710.4,255.2 C713.0,252.5 714.4,249.8 715.5,247.0 C716.6,244.2 717.0,240.6 717.0,238.1 C717.0,235.6 716.6,234.0 715.5,232.0 C714.4,230.1 713.0,228.3 710.4,226.5 C707.9,224.6 704.4,222.5 700.2,220.9 C696.1,219.3 690.5,217.9 685.6,216.8 C680.7,215.7 675.8,214.9 671.0,214.3 C666.1,213.7 661.2,213.3 656.3,212.9 C651.4,212.6 644.4,212.5 641.7,212.3 C639.0,212.2 642.0,213.0 640.0,212.2 C638.0,211.4 633.6,208.4 629.4,207.8 C625.1,207.2 619.5,208.1 614.5,208.5 C609.5,208.9 604.6,209.3 599.6,210.1 C594.6,210.9 589.7,211.8 584.7,213.1 C579.7,214.4 574.0,216.0 569.8,217.9 C565.6,219.8 562.0,222.2 559.4,224.4 C556.8,226.6 555.3,228.7 554.2,231.0 C553.1,233.3 552.7,235.4 552.7,238.1Z" fill="#fff" stroke="#1f1f1f" stroke-width="3.9" stroke-linejoin="round"/>
<path d="M552.7,192.7 C552.7,195.4 553.1,198.8 554.2,201.6 C555.3,204.5 556.8,207.1 559.4,209.8 C562.0,212.5 565.6,215.6 569.8,218.0 C574.0,220.4 579.7,222.4 584.7,224.0 C589.7,225.6 594.6,226.8 599.6,227.7 C604.6,228.6 609.5,229.2 614.5,229.7 C619.5,230.2 625.1,230.4 629.4,230.6 C633.6,230.8 638.0,230.8 640.0,230.8 C642.0,230.8 639.0,230.8 641.7,230.6 C644.4,230.4 651.4,230.2 656.3,229.7 C661.2,229.2 666.1,228.6 671.0,227.7 C675.8,226.8 680.7,225.6 685.6,224.0 C690.5,222.4 696.1,220.4 700.2,218.0 C704.4,215.6 707.9,212.5 710.4,209.8 C713.0,207.1 714.4,204.5 715.5,201.6 C716.6,198.8 717.0,195.2 717.0,192.7 C717.0,190.2 716.6,188.6 715.5,186.6 C714.4,184.7 713.0,182.9 710.4,181.1 C707.9,179.2 704.4,177.1 700.2,175.5 C696.1,173.9 690.5,172.5 685.6,171.4 C680.7,170.3 675.8,169.5 671.0,168.9 C666.1,168.3 661.2,167.9 656.3,167.5 C651.4,167.2 644.4,167.1 641.7,166.9 C639.0,166.8 642.0,167.5 640.0,166.8 C638.0,166.0 633.6,163.0 629.4,162.4 C625.1,161.8 619.5,162.7 614.5,163.1 C609.5,163.5 604.6,163.9 599.6,164.7 C594.6,165.5 589.7,166.4 584.7,167.7 C579.7,169.0 574.0,170.6 569.8,172.5 C565.6,174.4 562.0,176.8 559.4,179.0 C556.8,181.2 555.3,183.3 554.2,185.6 C553.1,187.9 552.7,190.0 552.7,192.7Z" fill="#fff" stroke="#1f1f1f" stroke-width="3.9" stroke-linejoin="round"/>
<path d="M640.0,78.6 C638.0,78.6 632.4,78.2 629.4,78.6 C626.4,79.0 624.5,79.9 622.0,81.2 C619.5,82.5 617.0,84.2 614.5,86.4 C612.0,88.6 609.3,91.6 607.1,94.6 C604.9,97.6 603.1,100.9 601.1,104.3 C599.1,107.7 597.1,112.1 595.1,114.7 C593.1,117.3 591.7,118.3 589.2,119.9 C586.7,121.5 583.4,122.9 580.2,124.4 C577.0,125.9 573.0,127.3 569.8,128.9 C566.6,130.5 563.4,132.1 560.9,134.1 C558.4,136.1 556.3,138.6 554.9,140.8 C553.5,143.0 552.8,144.9 552.7,147.5 C552.6,150.1 553.1,153.6 554.2,156.4 C555.3,159.2 556.8,161.9 559.4,164.6 C562.0,167.3 565.6,170.4 569.8,172.8 C574.0,175.2 579.7,177.2 584.7,178.8 C589.7,180.4 594.6,181.6 599.6,182.5 C604.6,183.4 609.5,184.0 614.5,184.5 C619.5,185.0 625.1,185.2 629.4,185.4 C633.6,185.6 638.0,185.6 640.0,185.6 C642.0,185.6 639.0,185.6 641.7,185.4 C644.4,185.2 651.4,185.0 656.3,184.5 C661.2,184.0 666.1,183.4 671.0,182.5 C675.8,181.6 680.7,180.4 685.6,178.8 C690.5,177.2 696.1,175.2 700.2,172.8 C704.4,170.4 707.9,167.3 710.4,164.6 C713.0,161.9 714.4,159.2 715.5,156.4 C716.6,153.6 717.1,150.1 717.0,147.5 C716.9,144.9 716.2,143.0 714.8,140.8 C713.5,138.6 711.4,136.1 709.0,134.1 C706.5,132.1 703.4,130.5 700.2,128.9 C697.1,127.3 693.2,125.9 690.0,124.4 C686.8,122.9 683.6,121.5 681.2,119.9 C678.7,118.3 677.3,117.3 675.4,114.7 C673.4,112.1 671.4,107.7 669.5,104.3 C667.5,100.9 665.8,97.6 663.6,94.6 C661.4,91.6 658.8,88.6 656.3,86.4 C653.9,84.2 651.4,82.5 649.0,81.2 C646.5,79.9 643.2,79.0 641.7,78.6 C640.2,78.2 642.0,78.6 640.0,78.6Z" fill="#fff" stroke="#1f1f1f" stroke-width="3.9" stroke-linejoin="round"/>
<path d="M566.8,137.8 C568.0,137.6 570.0,136.9 571.3,137.8 C572.5,138.7 573.4,141.1 574.3,143.0 C575.2,144.9 575.0,146.8 576.5,149.0 C578.0,151.2 580.3,153.9 583.2,156.4 C586.1,158.9 590.0,161.8 593.7,163.9 C597.4,166.0 602.1,167.5 605.6,169.1 C609.1,170.7 612.1,172.3 614.5,173.6 C616.9,174.8 619.0,175.8 619.7,176.6 C620.5,177.4 621.1,178.5 619.0,178.5 C616.9,178.5 611.6,177.5 607.1,176.6 C602.6,175.7 596.9,174.3 592.2,172.8 C587.5,171.3 582.7,169.7 578.7,167.6 C574.7,165.5 571.0,162.9 568.3,160.2 C565.6,157.5 563.4,154.1 562.4,151.2 C561.4,148.3 561.9,145.1 562.1,143.0 C562.3,140.9 563.0,139.7 563.8,138.8 C564.6,137.9 565.5,138.0 566.8,137.8Z" fill="#fff" stroke="#1f1f1f" stroke-width="1.25"/>
<path d="M566.8,183.2 C568.0,183.0 570.0,182.3 571.3,183.2 C572.5,184.1 573.4,186.5 574.3,188.4 C575.2,190.3 575.0,192.2 576.5,194.4 C578.0,196.6 580.3,199.3 583.2,201.8 C586.1,204.3 590.0,207.2 593.7,209.3 C597.4,211.4 602.1,212.9 605.6,214.5 C609.1,216.1 612.1,217.8 614.5,219.0 C616.9,220.2 619.0,221.2 619.7,222.0 C620.5,222.8 621.1,223.9 619.0,223.9 C616.9,223.9 611.6,222.9 607.1,222.0 C602.6,221.1 596.9,219.7 592.2,218.2 C587.5,216.7 582.7,215.1 578.7,213.0 C574.7,210.9 571.0,208.3 568.3,205.6 C565.6,202.9 563.4,199.5 562.4,196.6 C561.4,193.7 561.9,190.5 562.1,188.4 C562.3,186.3 563.0,185.1 563.8,184.2 C564.6,183.3 565.5,183.4 566.8,183.2Z" fill="#fff" stroke="#1f1f1f" stroke-width="1.25"/>
<path d="M566.8,228.8 C568.0,228.6 570.0,227.9 571.3,228.8 C572.5,229.7 573.4,232.1 574.3,234.0 C575.2,235.9 575.0,237.8 576.5,240.0 C578.0,242.2 580.3,244.9 583.2,247.4 C586.1,249.9 590.0,252.8 593.7,254.9 C597.4,257.0 602.1,258.5 605.6,260.1 C609.1,261.7 612.1,263.4 614.5,264.6 C616.9,265.9 619.0,266.8 619.7,267.6 C620.5,268.4 621.1,269.5 619.0,269.5 C616.9,269.5 611.6,268.6 607.1,267.6 C602.6,266.7 596.9,265.3 592.2,263.8 C587.5,262.3 582.7,260.7 578.7,258.6 C574.7,256.5 571.0,253.9 568.3,251.2 C565.6,248.5 563.4,245.1 562.4,242.2 C561.4,239.3 561.9,236.1 562.1,234.0 C562.3,231.9 563.0,230.7 563.8,229.8 C564.6,228.9 565.5,229.0 566.8,228.8Z" fill="#fff" stroke="#1f1f1f" stroke-width="1.25"/>
<path d="M438.6,118.3 L495.6,261.7" stroke="#1f1f1f" stroke-width="1.15" fill="none"/>
<path d="M784.8,158 L701.3,194.7" stroke="#1f1f1f" stroke-width="1.15" fill="none"/>
<path d="M490.6,314 L403.4,397.7" stroke="#1f1f1f" stroke-width="1.15" fill="none"/>
<text transform="translate(402.6,110.7) scale(1.072,1)">steel</text>
<text transform="translate(792.3,161.7) scale(1.09,1)">ceramic</text>
<text transform="translate(344.6,426.9) scale(1.066,1)">aluminium</text>
</svg>
</body></html>
